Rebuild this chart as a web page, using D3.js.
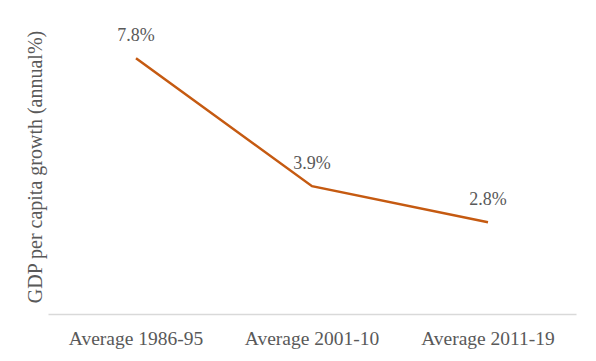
<!DOCTYPE html>
<html>
<head>
<meta charset="utf-8">
<script src="https://cdn.jsdelivr.net/npm/d3@7"></script>
<style>
  body { margin: 0; background: #fff; }
  text { font-family: "Liberation Serif", "Times New Roman", serif; fill: #595959; }
</style>
</head>
<body>
<div id="viz"></div>
<script>
var categories = ["Average 1986-95", "Average 2001-10", "Average 2011-19"];
var growth = [7.8, 3.9, 2.8];
var labels = ["7.8%", "3.9%", "2.8%"];

var W = 596, H = 361,
    margin = { top: 19, right: 20, bottom: 47, left: 48 },
    width = W - margin.left - margin.right,
    height = H - margin.top - margin.bottom;

var svg = d3.select('#viz').append('svg')
  .attr('width', W)
  .attr('height', H);

var g = svg.append('g')
  .attr('transform', 'translate(' + margin.left + ',' + margin.top + ')');

var xScale = d3.scaleBand()
  .domain(categories)
  .range([0, width]);

var yScale = d3.scaleLinear()
  .domain([0, 9])
  .range([height, 0]);

// x axis
var xAxis = d3.axisBottom(xScale).tickSize(0).tickPadding(17);
var xGuide = g.append('g')
  .attr('transform', 'translate(0,' + height + ')')
  .call(xAxis);
xGuide.select('.domain').attr('stroke', '#d9d9d9').attr('stroke-width', 1.5);
xGuide.selectAll('text')
  .style('font-size', '19.5px')
  .style('font-family', '"Liberation Serif", "Times New Roman", serif')
  .attr('fill', '#595959');

// y title
svg.append('text')
  .attr('transform', 'translate(42,' + 167 + ') rotate(-90)')
  .attr('text-anchor', 'middle')
  .style('font-size', '20px')
  .text('GDP per capita growth (annual%)');

var line = d3.line()
  .x(function(d, i) { return xScale(categories[i]) + xScale.bandwidth() / 2; })
  .y(function(d) { return yScale(d); });

g.append('path')
  .datum(growth)
  .attr('fill', 'none')
  .attr('stroke', '#c55a11')
  .attr('stroke-width', 2.5)
  .attr('d', line);

g.selectAll('.lbl').data(growth)
  .enter().append('text')
  .attr('class', 'lbl')
  .attr('text-anchor', 'middle')
  .attr('x', function(d, i) { return xScale(categories[i]) + xScale.bandwidth() / 2; })
  .attr('y', function(d) { return yScale(d) - 17; })
  .style('font-size', '18px')
  .text(function(d, i) { return labels[i]; });
</script>
</body>
</html>
